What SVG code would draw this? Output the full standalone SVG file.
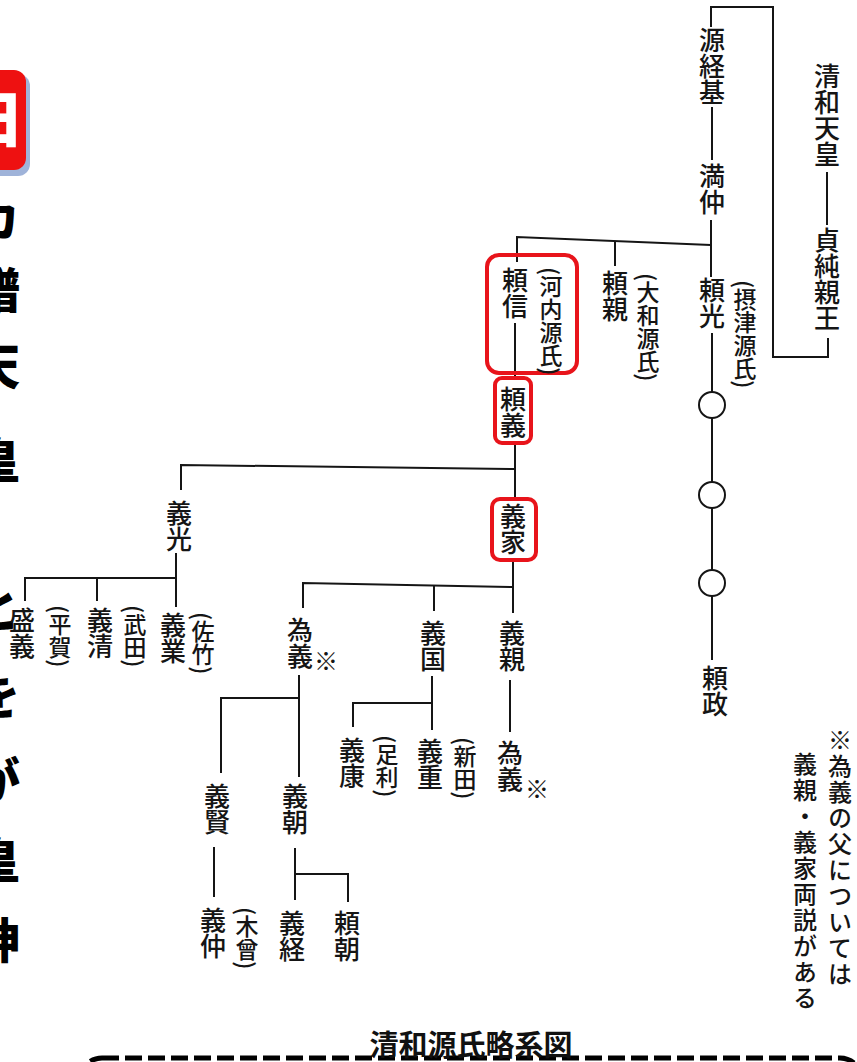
<svg xmlns="http://www.w3.org/2000/svg" width="857" height="1062" viewBox="0 0 857 1062">
<style>
.n{font-family:"Noto Sans CJK JP","Noto Sans CJK SC",sans-serif;font-size:26px;font-weight:500;fill:#151515;writing-mode:vertical-rl;}
.p{font-family:"Noto Sans CJK JP","Noto Sans CJK SC",sans-serif;font-size:23px;font-weight:500;fill:#151515;writing-mode:vertical-rl;}
.k{font-family:"Noto Sans CJK JP","Noto Sans CJK SC",sans-serif;font-size:24px;fill:#151515;text-anchor:middle;}
.note{font-family:"Noto Sans CJK JP","Noto Sans CJK SC",sans-serif;font-size:24px;font-weight:500;letter-spacing:2px;fill:#151515;writing-mode:vertical-rl;}
.big{font-family:"Noto Sans CJK JP","Noto Sans CJK SC",sans-serif;font-size:48px;font-weight:900;fill:#000;text-anchor:middle;}
.ln{fill:none;stroke:#151515;stroke-width:2;}
.hl{fill:none;stroke:#e8141b;stroke-width:4;}
.c{fill:#fff;stroke:#151515;stroke-width:2;}
</style>
<rect width="857" height="1062" fill="#fff"/>

<g id="side-fragments">
<rect x="-36" y="74" width="66" height="102" rx="12" fill="#9fb3d9"/>
<rect x="-40" y="70" width="66" height="100" rx="12" fill="#ee1111"/>
<text x="-6" y="142" style="font-family:'Noto Sans CJK JP',sans-serif;font-size:60px;font-weight:900;fill:#fff;text-anchor:middle">日</text>
<text class="big" x="-4" y="236">カ</text>
<text class="big" x="-4" y="308">譜</text>
<text class="big" x="-4" y="384">天</text>
<text class="big" x="-4" y="478">皇</text>
<text class="big" x="-4" y="627">と</text>
<text class="big" x="-4" y="714">を</text>
<text class="big" x="-4" y="798">が</text>
<text class="big" x="-4" y="878">皇</text>
<text class="big" x="-4" y="958">神</text>
</g>

<g id="connectors">
<path class="ln" d="M711,27 V7 H773 V357 H828 V338"/>
<path class="ln" d="M712,107 V160"/>
<path class="ln" d="M827,172 V225"/>
<path class="ln" d="M711,220 V277"/>
<path class="ln" d="M517,262 V237 L711,245"/>
<path class="ln" d="M615,241 V266"/>
<path class="ln" d="M712,333 V392 M712,418 V482 M712,508 V570 M712,596 V660"/>
<path class="ln" d="M515,323 V378"/>
<path class="ln" d="M515,445 V497"/>
<path class="ln" d="M181,490 V465 L515,469"/>
<path class="ln" d="M176,553 V607"/>
<path class="ln" d="M25,601 V578 H176"/>
<path class="ln" d="M97,578 V601"/>
<path class="ln" d="M513,561 V613"/>
<path class="ln" d="M303,608 V583 L513,587"/>
<path class="ln" d="M434,586 V611"/>
<path class="ln" d="M299,675 V777"/>
<path class="ln" d="M221,773 V698 H299"/>
<path class="ln" d="M214,847 V897"/>
<path class="ln" d="M295,848 V900"/>
<path class="ln" d="M295,874 H348 V902"/>
<path class="ln" d="M432,676 V730"/>
<path class="ln" d="M353,727 V703 H432"/>
<path class="ln" d="M510,680 V732"/>
</g>

<g id="n-seiwa"><text class="n" x="827" y="63">清和天皇</text></g>
<g id="n-sadazumi"><text class="n" x="827" y="227">貞純親王</text></g>
<g id="n-tsunemoto"><text class="n" x="712" y="27">源経基</text></g>
<g id="n-mitsunaka"><text class="n" x="712" y="163">満仲</text></g>
<g id="n-yorinobu"><rect class="hl" x="487" y="255" width="90" height="118" rx="12"/><text class="n" x="515" y="267">頼信</text><text class="p" x="551" y="267">(河内源氏)</text></g>
<g id="n-yorichika"><text class="n" x="615" y="270">頼親</text><text class="p" x="648" y="273">(大和源氏)</text></g>
<g id="n-yorimitsu"><text class="n" x="712" y="277">頼光</text><text class="p" x="745" y="280">(摂津源氏)</text></g>
<g id="n-c1"><circle class="c" cx="712" cy="405" r="13"/></g>
<g id="n-c2"><circle class="c" cx="712" cy="495" r="13"/></g>
<g id="n-c3"><circle class="c" cx="712" cy="583" r="13"/></g>
<g id="n-yorimasa"><text class="n" x="715" y="665">頼政</text></g>
<g id="n-yoriyoshi"><rect class="hl" x="495" y="378" width="36" height="65" rx="7"/><text class="n" x="513" y="386">頼義</text></g>
<g id="n-yoshiie"><rect class="hl" x="492" y="499" width="44" height="61" rx="8"/><text class="n" x="513" y="503">義家</text></g>
<g id="n-yoshimitsu"><text class="n" x="179" y="500">義光</text></g>
<g id="n-yoshinari"><text class="n" x="173" y="612">義業</text><text class="p" x="203" y="612">(佐竹)</text></g>
<g id="n-yoshikiyo"><text class="n" x="100" y="607">義清</text><text class="p" x="135" y="605">(武田)</text></g>
<g id="n-moriyoshi"><text class="n" x="22" y="607">盛義</text><text class="p" x="60" y="605">(平賀)</text></g>
<g id="n-tameyoshi1"><text class="n" x="300" y="617">為義</text><text class="k" x="326" y="670">※</text></g>
<g id="n-yoshikuni"><text class="n" x="433" y="620">義国</text></g>
<g id="n-yoshichika"><text class="n" x="512" y="620">義親</text></g>
<g id="n-yoshiyasu"><text class="n" x="352" y="737">義康</text><text class="p" x="387" y="735">(足利)</text></g>
<g id="n-yoshishige"><text class="n" x="430" y="738">義重</text><text class="p" x="465" y="737">(新田)</text></g>
<g id="n-tameyoshi2"><text class="n" x="510" y="740">為義</text><text class="k" x="537" y="798">※</text></g>
<g id="n-yoshikata"><text class="n" x="217" y="783">義賢</text></g>
<g id="n-yoshitomo"><text class="n" x="295" y="783">義朝</text></g>
<g id="n-yoshinaka"><text class="n" x="213" y="907">義仲</text><text class="p" x="247" y="907">(木曾)</text></g>
<g id="n-yoshitsune"><text class="n" x="292" y="910">義経</text></g>
<g id="n-yoritomo"><text class="n" x="347" y="910">頼朝</text></g>

<g id="note">
<text class="note" x="840" y="728">※為義の父については</text>
<text class="note" x="805" y="752">義親・義家両説がある</text>
</g>

<g id="title">
<rect x="80" y="1058" width="782" height="60" rx="22" fill="none" stroke="#000" stroke-width="5" stroke-dasharray="17 6"/>
<text x="471" y="1056" style="font-family:'Noto Sans CJK JP',sans-serif;font-size:29px;font-weight:700;fill:#111;text-anchor:middle">清和源氏略系図</text>
</g>
</svg>
